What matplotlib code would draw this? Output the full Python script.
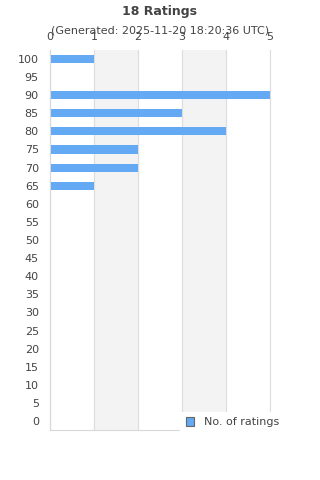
import matplotlib
matplotlib.use("Agg")
import matplotlib.pyplot as plt

# rating buckets (top to bottom) and counts
ratings = [100, 95, 90, 85, 80, 75, 70, 65, 60, 55, 50, 45, 40, 35, 30, 25, 20, 15, 10, 5, 0]
counts = [1, 0, 5, 3, 4, 2, 2, 1, 0, 0, 0, 0, 0, 0, 0, 0, 0, 0, 0, 0, 0]
x_ticks = [0, 1, 2, 3, 4, 5]

txt = "#444444"
fig = plt.figure(figsize=(3.2, 4.8), dpi=100)
ax = fig.add_axes([0.156, 0.104, 0.688, 0.792])

pos = list(range(len(ratings)))
for i in range(0, 5, 2):
    ax.axvspan(i + 1, i + 2, color="#f3f3f3", zorder=0)
ax.barh(pos, counts, height=0.45, color="#63a9f4", zorder=2, label="No. of ratings")

ax.set_xlim(0, 5)
ax.set_ylim(len(ratings) - 0.5, -0.5)
ax.set_yticks(pos)
ax.set_yticklabels([str(r) for r in ratings], fontsize=8, color=txt)
ax.set_xticks(x_ticks)
ax.xaxis.tick_top()
ax.tick_params(axis="x", labelsize=8, colors=txt, length=0, pad=5.5)
ax.tick_params(axis="y", length=0, pad=8)
ax.grid(axis="x", color="#dddddd", linewidth=0.8, zorder=1)
for gl in ax.get_xgridlines():
    gl.set_clip_on(False)
ax.set_axisbelow(True)
for s in ["top", "right"]:
    ax.spines[s].set_visible(False)
for s in ["left", "bottom"]:
    ax.spines[s].set_color("#d8d8d8")

fig.text(0.5, 0.977, "18 Ratings", ha="center", va="center", fontsize=9, fontweight="bold", color=txt)
fig.text(0.5, 0.937, "(Generated: 2025-11-20 18:20:36 UTC)", ha="center", va="center", fontsize=8, color=txt)

leg = ax.legend(loc="center", bbox_to_anchor=(0.727, 0.12), bbox_transform=fig.transFigure,
                fontsize=8, frameon=True, handlelength=0.8, handleheight=0.8, borderpad=0.5,
                handletextpad=0.9, labelcolor=txt, fancybox=False)
leg.get_frame().set_edgecolor("white")
leg.get_frame().set_alpha(1)
leg.legend_handles[0].set_edgecolor("#666666")
leg.legend_handles[0].set_linewidth(0.8)

fig.savefig("out.png", dpi=100)
